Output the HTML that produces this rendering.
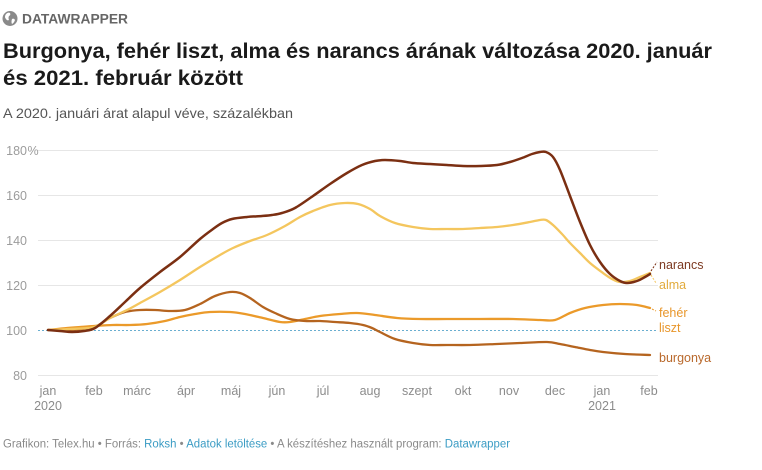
<!DOCTYPE html>
<html><head><meta charset="utf-8"><style>
html,body{margin:0;padding:0;background:#fff;}
svg{display:block;}
text{font-family:"Liberation Sans",Arial,sans-serif;}
</style></head><body>
<svg id="chart" width="762" height="470" viewBox="0 0 762 470" xmlns="http://www.w3.org/2000/svg">
<!-- header -->
<circle cx="10" cy="18.5" r="7.5" fill="#8a8a8a"/>
<path d="M6,14 Q8,12 10,13 Q11,15 9,16 Q8,18 9,20 Q7,21 6,19 Q4,17 6,14 Z" fill="#fff"/>
<path d="M12,19 Q14,18 15,20 Q14,23 12,24 Q11,22 12,19 Z" fill="#fff"/>
<text x="22" y="23.5" font-size="13.5" font-weight="bold" fill="#666" textLength="106" lengthAdjust="spacingAndGlyphs">DATAWRAPPER</text>

<!-- title -->
<text x="3" y="58" font-size="21" font-weight="bold" fill="#1a1a1a" textLength="709" lengthAdjust="spacingAndGlyphs">Burgonya, fehér liszt, alma és narancs árának változása 2020. január</text>
<text x="3" y="85" font-size="21" font-weight="bold" fill="#1a1a1a" textLength="240" lengthAdjust="spacingAndGlyphs">és 2021. február között</text>
<text x="3" y="118" font-size="14" fill="#555" textLength="290" lengthAdjust="spacingAndGlyphs">A 2020. januári árat alapul véve, százalékban</text>

<!-- grid -->
<g stroke="#e6e6e6" stroke-width="1">
<line x1="38" x2="658" y1="150.5" y2="150.5"/>
<line x1="38" x2="658" y1="195.5" y2="195.5"/>
<line x1="38" x2="658" y1="240.5" y2="240.5"/>
<line x1="38" x2="658" y1="285.5" y2="285.5"/>
<line x1="38" x2="658" y1="375.5" y2="375.5"/>
</g>
<line x1="38" x2="658" y1="330.5" y2="330.5" stroke="#6aaed0" stroke-width="1" stroke-dasharray="2,2"/>

<!-- y labels -->
<g font-size="12.5" fill="#9c9c9c" text-anchor="end">
<text x="27" y="155">180</text>
<text x="27" y="200">160</text>
<text x="27" y="245">140</text>
<text x="27" y="290">120</text>
<text x="27" y="335">100</text>
<text x="27" y="380">80</text>
</g>
<text x="27.5" y="155" font-size="12.5" fill="#9c9c9c">%</text>

<!-- x labels -->
<g font-size="12.5" fill="#8c8c8c" text-anchor="middle">
<text x="48" y="395">jan</text>
<text x="48" y="410">2020</text>
<text x="94" y="395">feb</text>
<text x="137" y="395">márc</text>
<text x="186" y="395">ápr</text>
<text x="231" y="395">máj</text>
<text x="277" y="395">jún</text>
<text x="323" y="395">júl</text>
<text x="370" y="395">aug</text>
<text x="417" y="395">szept</text>
<text x="463" y="395">okt</text>
<text x="509" y="395">nov</text>
<text x="555" y="395">dec</text>
<text x="602" y="395">jan</text>
<text x="602" y="410">2021</text>
<text x="649" y="395">feb</text>
</g>

<!-- series -->
<g fill="none" stroke-linejoin="round" stroke-linecap="round">
<polyline class="s" stroke="#eb9a2a" stroke-width="2.3" points="48,330 67,328 80,327 94,326 113,325 130,325 147,324 165,321 180,317 195,314 210,312 230,312 245,314 263,318 280,322 290,322 305,319 320,316 340,314 357,313 375,315 397,318 420,319 447,319 480,319 513,319 540,320 555,320 570,313 585,308 603,305 620,304 637,305 650,308"/>
<polyline class="s" stroke="#b5641f" stroke-width="2.3" points="48,330 70,330 94,327 110,318 125,312 140,310 155,310 170,311 185,310 200,304 215,296 230,292 240,293 250,298 263,307 275,313 290,319 305,321 320,321 335,322 350,323 363,325 372,328 380,332 395,339 413,343 430,345 447,345 470,345 497,344 520,343 547,342 560,344 575,347 590,350 603,352 625,354 650,355"/>
<polyline class="s" stroke="#f4c65e" stroke-width="2.3" points="48,330 70,329 94,327 110,318 127,310 140,303 160,292 180,280 200,267 220,255 233,248 250,241 267,235 285,226 300,217 313,211 330,205 345,203 358,204 370,209 380,216 395,223 413,227 430,229 447,229 463,229 480,228 497,227 513,225 530,222 540,220 546,220 553,225 562,234 570,243 580,253 590,263 603,273 612,279 620,282 630,281 640,277 650,273"/>
<polyline class="s" stroke="#7b2f12" stroke-width="2.5" points="48,330 60,331 72,332 84,331 95,328 110,316 125,302 140,288 160,272 180,257 200,239 213,229 222,223 232,219 247,217 262,216 272,215 282,213 295,208 313,196 330,184 347,173 362,165 375,161 385,160 400,161 413,163 430,164 447,165 463,166 480,166 497,165 510,162 522,158 532,154 540,152 546,152 553,157 560,170 570,196 580,222 590,245 600,262 610,274 620,281 627,283 637,281 645,277 650,274"/>
</g>

<!-- connectors -->
<line x1="651" y1="271" x2="657" y2="262" stroke="#7b2f12" stroke-width="1" stroke-dasharray="2,1.5"/>
<line x1="651" y1="275" x2="656" y2="283" stroke="#f4c65e" stroke-width="1" stroke-dasharray="2,1.5"/>
<line x1="652" y1="309" x2="656" y2="311" stroke="#eb9a2a" stroke-width="1" stroke-dasharray="2,1.5"/>

<!-- series labels -->
<g font-size="12.5">
<text x="659" y="269" fill="#7d3a22">narancs</text>
<text x="659" y="289" fill="#e2ab3c">alma</text>
<text x="659" y="317" fill="#e8962b">fehér</text>
<text x="659" y="332" fill="#e8962b">liszt</text>
<text x="659" y="362" fill="#b9692c">burgonya</text>
</g>

<!-- footer -->
<text x="3" y="447.5" font-size="11.5" fill="#8a8a8a" textLength="507" lengthAdjust="spacingAndGlyphs">Grafikon: Telex.hu • Forrás: <tspan fill="#3b9cc4">Roksh</tspan> • <tspan fill="#3b9cc4">Adatok letöltése</tspan> • A készítéshez használt program: <tspan fill="#3b9cc4">Datawrapper</tspan></text>
</svg>
<script>
(function(){
  var NS="http://www.w3.org/2000/svg";
  var pls=document.querySelectorAll("polyline.s");
  for(var k=0;k<pls.length;k++){
    var pl=pls[k];
    var pts=pl.getAttribute("points").trim().split(/\s+/).map(function(p){var a=p.split(",");return [parseFloat(a[0]),parseFloat(a[1])];});
    var d="M"+pts[0][0]+","+pts[0][1];
    for(var i=0;i<pts.length-1;i++){
      var p0=pts[i>0?i-1:i],p1=pts[i],p2=pts[i+1],p3=pts[i+2<pts.length?i+2:i+1];
      var t=6;
      var c1x=p1[0]+(p2[0]-p0[0])/t,c1y=p1[1]+(p2[1]-p0[1])/t;
      var c2x=p2[0]-(p3[0]-p1[0])/t,c2y=p2[1]-(p3[1]-p1[1])/t;
      d+=" C"+c1x.toFixed(2)+","+c1y.toFixed(2)+" "+c2x.toFixed(2)+","+c2y.toFixed(2)+" "+p2[0]+","+p2[1];
    }
    var path=document.createElementNS(NS,"path");
    path.setAttribute("d",d);
    path.setAttribute("stroke",pl.getAttribute("stroke"));
    path.setAttribute("stroke-width",pl.getAttribute("stroke-width"));
    path.setAttribute("fill","none");
    path.setAttribute("stroke-linejoin","round");
    path.setAttribute("stroke-linecap","round");
    pl.parentNode.replaceChild(path,pl);
  }
})();
</script>
</body></html>
